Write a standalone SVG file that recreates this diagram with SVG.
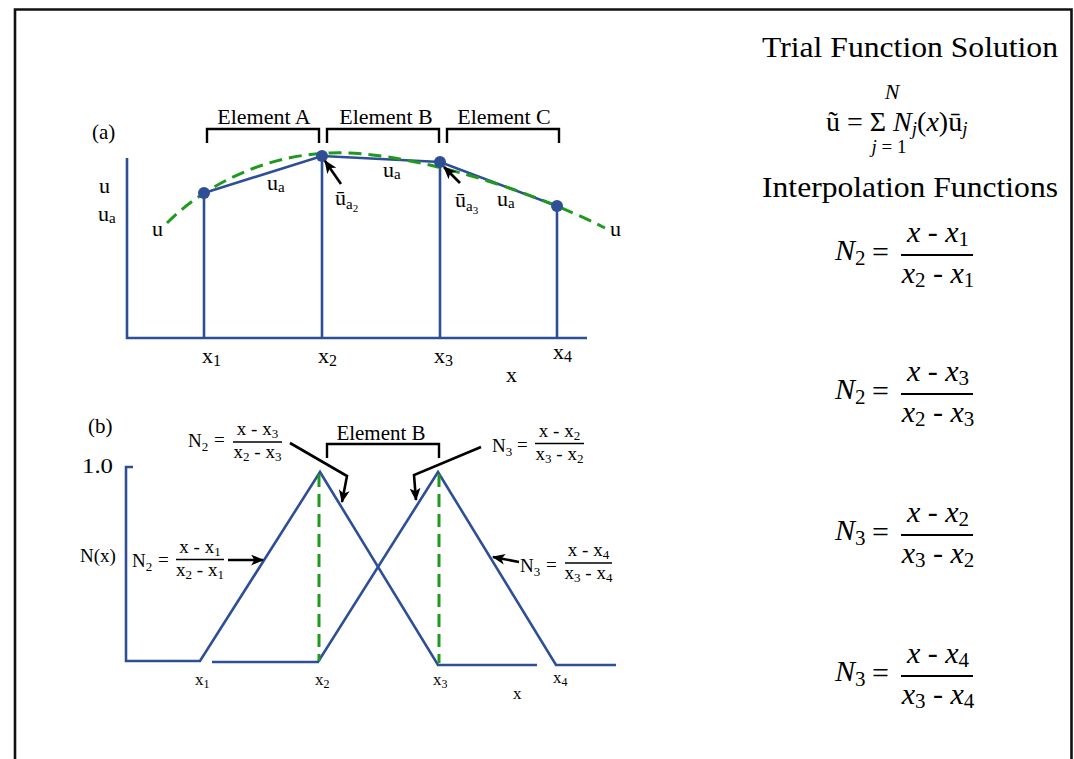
<svg xmlns="http://www.w3.org/2000/svg" width="1074" height="759" viewBox="0 0 1074 759">
<defs>
<style>
.t{font-family:"Liberation Serif","Times New Roman",serif;fill:#000}
.i{font-style:italic}
.n{font-style:normal}
.blue{fill:none;stroke:#2e4f96;stroke-width:2.6;stroke-linejoin:miter}
.green{fill:none;stroke:#1f9a1f;stroke-width:3;stroke-dasharray:13 7}
.brk{fill:none;stroke:#000;stroke-width:2.4}
.arr{fill:none;stroke:#000;stroke-width:2.6;marker-end:url(#ah)}
.frac{stroke:#000;stroke-width:1.6}
.fracR{stroke:#000;stroke-width:2}
.node{fill:#2e4f96}
</style>
<marker id="ah" viewBox="0 0 12 10" refX="11" refY="5" markerWidth="13" markerHeight="11" markerUnits="userSpaceOnUse" orient="auto">
<path d="M0,0 L12,5 L0,10 L3,5 z" fill="#000"/>
</marker>
</defs>
<rect x="0" y="0" width="1074" height="759" fill="#fff"/>
<path d="M15,770 V9.5 H1071.5 V770" fill="none" stroke="#111" stroke-width="2.6"/>

<!-- Panel (a) -->
<g id="panel-a">
<text class="t" x="92" y="139" font-size="21">(a)</text>
<path class="blue" d="M127,158 V338 H587"/>
<path class="blue" d="M204,193 V338 M322,156 V338 M440,162 V338 M557,206 V338"/>
<path class="blue" d="M204,193 L322,156 L440,162 L557,206"/>
<path class="green" d="M167,223 C205,185 265,155 330,153 C400,150 520,185 605,228"/>
<circle class="node" cx="204" cy="193" r="6"/>
<circle class="node" cx="322" cy="156" r="6"/>
<circle class="node" cx="440" cy="162" r="6"/>
<circle class="node" cx="557" cy="206" r="6"/>
<path class="brk" d="M207,143 V129 H319 V143"/>
<path class="brk" d="M327,143 V129 H439 V143"/>
<path class="brk" d="M447,143 V129 H559 V143"/>
<text class="t" x="264" y="124" font-size="22" text-anchor="middle">Element A</text>
<text class="t" x="386" y="124" font-size="22" text-anchor="middle">Element B</text>
<text class="t" x="504" y="124" font-size="22" text-anchor="middle">Element C</text>
<text class="t" x="99" y="193" font-size="22">u</text>
<text class="t" x="98" y="221" font-size="22">u<tspan font-size="15" dy="2">a</tspan></text>
<text class="t" x="152" y="236" font-size="22">u</text>
<text class="t" x="267" y="190" font-size="22">u<tspan font-size="15" dy="2">a</tspan></text>
<text class="t" x="383" y="177" font-size="22">u<tspan font-size="15" dy="2">a</tspan></text>
<text class="t" x="497" y="206" font-size="22">u<tspan font-size="15" dy="2">a</tspan></text>
<text class="t" x="610" y="236" font-size="22">u</text>
<text class="t" x="335" y="205" font-size="22">ū<tspan font-size="15" dy="4">a</tspan><tspan font-size="11" dy="3">2</tspan></text>
<text class="t" x="455" y="207" font-size="22">ū<tspan font-size="15" dy="4">a</tspan><tspan font-size="11" dy="3">3</tspan></text>
<text class="t" x="202" y="363" font-size="22">x<tspan font-size="16" dy="3">1</tspan></text>
<text class="t" x="318" y="363" font-size="22">x<tspan font-size="16" dy="3">2</tspan></text>
<text class="t" x="434" y="363" font-size="22">x<tspan font-size="16" dy="3">3</tspan></text>
<text class="t" x="553" y="359" font-size="22">x<tspan font-size="16" dy="3">4</tspan></text>
<text class="t" x="506" y="382" font-size="22">x</text>
</g>

<!-- Panel (b) -->
<g id="panel-b">
<text class="t" x="88" y="433" font-size="21">(b)</text>
<text class="t" x="82" y="473" font-size="21" textLength="31" lengthAdjust="spacingAndGlyphs">1.0</text>
<text class="t" x="80" y="562" font-size="19">N(x)</text>
<path class="blue" d="M133,467 H126 V661 H200 L320,472 L438,665 H537"/>
<path class="blue" d="M212,662 H318 L438,472 L556,665 H616"/>
<path class="green" d="M319,474 V661 M439,474 V663"/>
<path class="brk" d="M327,458 V444 H439 V458"/>
<text class="t" x="381" y="440" font-size="21" text-anchor="middle">Element B</text>
<text class="t" x="195" y="685" font-size="17">x<tspan font-size="12" dy="3">1</tspan></text>
<text class="t" x="315" y="685" font-size="17">x<tspan font-size="12" dy="3">2</tspan></text>
<text class="t" x="433" y="685" font-size="17">x<tspan font-size="12" dy="3">3</tspan></text>
<text class="t" x="553" y="683" font-size="17">x<tspan font-size="12" dy="3">4</tspan></text>
<text class="t" x="513" y="699" font-size="17">x</text>
</g>

<!-- (b) labels -->
<g id="label-n2-left">
<text class="t" x="132" y="567" font-size="19">N<tspan font-size="13" dy="4">2</tspan></text>
<text class="t" x="158" y="566" font-size="19">=</text>
<line class="frac" x1="176" y1="559.5" x2="224" y2="559.5"/>
<text class="t" x="200" y="553" font-size="19" text-anchor="middle">x - x<tspan font-size="13" dy="3">1</tspan></text>
<text class="t" x="200" y="576" font-size="19" text-anchor="middle">x<tspan font-size="13" dy="3">2</tspan><tspan dy="-3"> - x</tspan><tspan font-size="13" dy="3">1</tspan></text>
</g>
<g id="label-n2-top">
<text class="t" x="188" y="447" font-size="19">N<tspan font-size="13" dy="4">2</tspan></text>
<text class="t" x="214" y="446" font-size="19">=</text>
<line class="frac" x1="233" y1="442" x2="282" y2="442"/>
<text class="t" x="257.5" y="435" font-size="19" text-anchor="middle">x - x<tspan font-size="13" dy="3">3</tspan></text>
<text class="t" x="257.5" y="458" font-size="19" text-anchor="middle">x<tspan font-size="13" dy="3">2</tspan><tspan dy="-3"> - x</tspan><tspan font-size="13" dy="3">3</tspan></text>
</g>
<g id="label-n3-top">
<text class="t" x="492" y="452" font-size="19">N<tspan font-size="13" dy="4">3</tspan></text>
<text class="t" x="517" y="451" font-size="19">=</text>
<line class="frac" x1="535" y1="443.5" x2="584" y2="443.5"/>
<text class="t" x="559.5" y="437" font-size="19" text-anchor="middle">x - x<tspan font-size="13" dy="3">2</tspan></text>
<text class="t" x="559.5" y="460" font-size="19" text-anchor="middle">x<tspan font-size="13" dy="3">3</tspan><tspan dy="-3"> - x</tspan><tspan font-size="13" dy="3">2</tspan></text>
</g>
<g id="label-n3-right">
<text class="t" x="520" y="572" font-size="19">N<tspan font-size="13" dy="4">3</tspan></text>
<text class="t" x="546" y="571" font-size="19">=</text>
<line class="frac" x1="565" y1="563" x2="612" y2="563"/>
<text class="t" x="588.5" y="556" font-size="19" text-anchor="middle">x - x<tspan font-size="13" dy="3">4</tspan></text>
<text class="t" x="588.5" y="579" font-size="19" text-anchor="middle">x<tspan font-size="13" dy="3">3</tspan><tspan dy="-3"> - x</tspan><tspan font-size="13" dy="3">4</tspan></text>
</g>

<!-- connectors / arrows -->
<g id="connectors">
<path class="arr" d="M341,184 L325,161"/>
<path class="arr" d="M460,183 L444,167"/>
<path class="arr" d="M228,560 L263,560"/>
<path class="arr" d="M290,443 L347,476 L342,502"/>
<path class="arr" d="M481,447 L414,475 L416,500"/>
<path class="arr" d="M519,562 L493,557"/>
</g>

<!-- Right side formulas -->
<g id="trial-function">
<text class="t" x="762" y="57" font-size="30" textLength="296" lengthAdjust="spacingAndGlyphs">Trial Function Solution</text>
<text class="t i" x="892" y="99" font-size="22" text-anchor="middle">N</text>
<text class="t" x="826" y="131" font-size="28">ũ = Σ <tspan class="i">N</tspan><tspan class="i" font-size="19" dy="4">j</tspan><tspan dy="-4">(</tspan><tspan class="i">x</tspan>)ū<tspan class="i" font-size="19" dy="4">j</tspan></text>
<text class="t" x="889" y="153" font-size="19" text-anchor="middle"><tspan class="i">j</tspan> = 1</text>
<text class="t" x="762" y="197" font-size="30" textLength="296" lengthAdjust="spacingAndGlyphs">Interpolation Functions</text>
</g>

<g id="formula-1">
<text class="t i" x="835" y="260" font-size="30">N<tspan class="n" font-size="21" dy="5">2</tspan></text>
<text class="t" x="872" y="262" font-size="30">=</text>
<line class="fracR" x1="901" y1="255" x2="973" y2="255"/>
<text class="t i" x="938" y="242" font-size="30" text-anchor="middle">x - x<tspan class="n" font-size="21" dy="4">1</tspan></text>
<text class="t i" x="938" y="283" font-size="30" text-anchor="middle">x<tspan class="n" font-size="21" dy="4">2</tspan><tspan dy="-4"> - x</tspan><tspan class="n" font-size="21" dy="4">1</tspan></text>
</g>
<g id="formula-2">
<text class="t i" x="835" y="399" font-size="30">N<tspan class="n" font-size="21" dy="5">2</tspan></text>
<text class="t" x="872" y="401" font-size="30">=</text>
<line class="fracR" x1="901" y1="394" x2="973" y2="394"/>
<text class="t i" x="938" y="381" font-size="30" text-anchor="middle">x - x<tspan class="n" font-size="21" dy="4">3</tspan></text>
<text class="t i" x="938" y="422" font-size="30" text-anchor="middle">x<tspan class="n" font-size="21" dy="4">2</tspan><tspan dy="-4"> - x</tspan><tspan class="n" font-size="21" dy="4">3</tspan></text>
</g>
<g id="formula-3">
<text class="t i" x="835" y="540" font-size="30">N<tspan class="n" font-size="21" dy="5">3</tspan></text>
<text class="t" x="872" y="542" font-size="30">=</text>
<line class="fracR" x1="901" y1="535" x2="973" y2="535"/>
<text class="t i" x="938" y="522" font-size="30" text-anchor="middle">x - x<tspan class="n" font-size="21" dy="4">2</tspan></text>
<text class="t i" x="938" y="563" font-size="30" text-anchor="middle">x<tspan class="n" font-size="21" dy="4">3</tspan><tspan dy="-4"> - x</tspan><tspan class="n" font-size="21" dy="4">2</tspan></text>
</g>
<g id="formula-4">
<text class="t i" x="835" y="681" font-size="30">N<tspan class="n" font-size="21" dy="5">3</tspan></text>
<text class="t" x="872" y="683" font-size="30">=</text>
<line class="fracR" x1="901" y1="676" x2="973" y2="676"/>
<text class="t i" x="938" y="663" font-size="30" text-anchor="middle">x - x<tspan class="n" font-size="21" dy="4">4</tspan></text>
<text class="t i" x="938" y="704" font-size="30" text-anchor="middle">x<tspan class="n" font-size="21" dy="4">3</tspan><tspan dy="-4"> - x</tspan><tspan class="n" font-size="21" dy="4">4</tspan></text>
</g>
</svg>
